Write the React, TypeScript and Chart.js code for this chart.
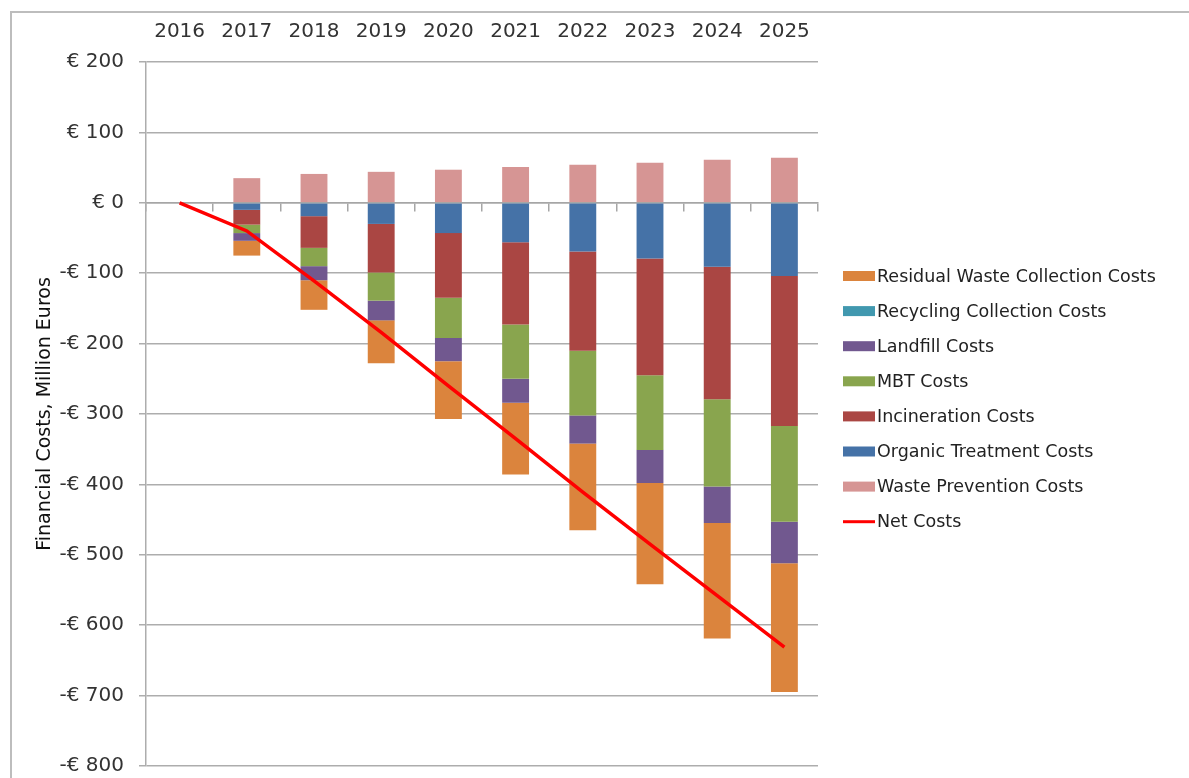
import React, { useEffect, useRef } from 'react';
import { Chart, registerables } from 'chart.js';

Chart.register(...registerables);

const years = ['2016', '2017', '2018', '2019', '2020', '2021', '2022', '2023', '2024', '2025'];

const wastePrevention = [0, 35, 41, 44, 47, 51, 54, 57, 61, 64];
const organicTreatment = [0, -10, -19, -30, -43, -56, -69, -79, -91, -104];
const incineration = [0, -21, -45, -69, -92, -117, -141, -166, -188, -213];
const mbt = [0, -12, -26, -40, -57, -77, -92, -106, -124, -136];
const landfill = [0, -11, -20, -28, -33, -34, -40, -47, -52, -59];
const recyclingCollection = [0, 0, 0, 0, 0, 0, 0, 0, 0, 0];
const residualCollection = [0, -21, -42, -61, -82, -102, -123, -144, -164, -183];
const netCosts = [0, -40, -111, -184, -260, -335, -411, -485, -558, -631];

const yTicks = { min: -800, max: 200, step: 100 };

const legendOrder = [
  'Residual Waste Collection Costs',
  'Recycling Collection Costs',
  'Landfill Costs',
  'MBT Costs',
  'Incineration Costs',
  'Organic Treatment Costs',
  'Waste Prevention Costs',
  'Net Costs',
];

const FONT = 'DejaVu Sans';

const sideLegend = {
  id: 'sideLegend',
  afterDraw(chart: any) {
    const { ctx, chartArea } = chart;
    const left = chartArea.right + 25;
    const firstY = 276;
    const rowH = 35.1;
    const sw = 32;
    const sh = 10;
    ctx.save();
    ctx.font = `17.5px "${FONT}"`;
    ctx.textBaseline = 'middle';
    ctx.textAlign = 'left';
    legendOrder.forEach((label, i) => {
      const ds = chart.data.datasets.find((d: any) => d.label === label);
      if (!ds) return;
      const y = firstY + i * rowH;
      if (ds.type === 'line') {
        ctx.strokeStyle = ds.borderColor;
        ctx.lineWidth = 3;
        ctx.beginPath();
        ctx.moveTo(left, y);
        ctx.lineTo(left + sw, y);
        ctx.stroke();
      } else {
        ctx.fillStyle = ds.backgroundColor;
        ctx.fillRect(left, y - sh / 2, sw, sh);
      }
      ctx.fillStyle = '#222';
      ctx.fillText(label, left + sw + 2, y + 1);
    });
    ctx.restore();
  },
};

export default function App() {
  const ref = useRef<HTMLCanvasElement>(null);

  useEffect(() => {
    const bar = (label: string, data: number[], color: string) => ({
      type: 'bar' as const,
      label,
      data,
      backgroundColor: color,
      borderWidth: 0,
      stack: 'costs',
      barPercentage: 0.4,
      categoryPercentage: 1.0,
    });

    const chart = new Chart(ref.current!, {
      type: 'bar',
      data: {
        labels: years,
        datasets: [
          {
            type: 'line',
            label: 'Net Costs',
            data: netCosts,
            borderColor: '#FF0000',
            backgroundColor: '#FF0000',
            borderWidth: 3.5,
            pointRadius: 0,
            tension: 0,
            stack: 'net',
          } as any,
          bar('Waste Prevention Costs', wastePrevention, '#D69594'),
          bar('Organic Treatment Costs', organicTreatment, '#4572A7'),
          bar('Incineration Costs', incineration, '#AA4643'),
          bar('MBT Costs', mbt, '#89A54E'),
          bar('Landfill Costs', landfill, '#71588F'),
          bar('Recycling Collection Costs', recyclingCollection, '#4198AF'),
          bar('Residual Waste Collection Costs', residualCollection, '#DB843D'),
        ],
      },
      options: {
        responsive: false,
        animation: false,
        layout: { padding: { left: 29.6, top: 20, right: 371, bottom: 12 } },
        plugins: {
          tooltip: { enabled: false },
          legend: { display: false },
        },
        scales: {
          x: {
            type: 'category',
            position: 'top',
            stacked: true,
            offset: true,
            grid: { display: false, drawTicks: false },
            border: { display: false },
            ticks: { padding: 18, color: '#333', font: { family: FONT, size: 20 } },
            afterFit: (s: any) => {
              s.height = 42;
            },
          },
          x0: {
            type: 'category',
            position: { y: 0 } as any,
            offset: true,
            grid: {
              offset: true,
              drawOnChartArea: false,
              drawTicks: true,
              tickLength: 8,
              color: '#a6a6a6',
              lineWidth: 1.5,
            },
            border: { display: true, color: '#a6a6a6', width: 1.5 },
            ticks: { display: false },
          },
          y: {
            stacked: true,
            min: yTicks.min,
            max: yTicks.max,
            ticks: {
              stepSize: yTicks.step,
              padding: 15,
              color: '#333',
              font: { family: FONT, size: 20 },
              callback: (v: any) => (v < 0 ? '-€ ' + -v : '€ ' + v),
            },
            grid: { color: '#adadad', lineWidth: 1.5, tickLength: 7 },
            border: { color: '#adadad', width: 1.5 },
            title: {
              display: true,
              text: 'Financial Costs, Million Euros',
              color: '#111',
              font: { family: FONT, size: 19 },
              padding: { top: 4, bottom: 4 },
            },
            afterFit: (s: any) => {
              s.width = 116.4;
              s.paddingTop = 0;
              s.paddingBottom = 0;
            },
          },
        },
      } as any,
      plugins: [sideLegend],
    });
    return () => chart.destroy();
  }, []);

  return (
    <div
      style={{
        position: 'fixed',
        left: 0,
        top: 0,
        width: 1189,
        height: 778,
        background: '#fff',
        overflow: 'hidden',
      }}
    >
      <div
        style={{
          position: 'absolute',
          left: 10,
          top: 11,
          right: 0,
          bottom: 0,
          borderTop: '2px solid #bdbdbd',
          borderLeft: '2px solid #bdbdbd',
        }}
      />
      <canvas ref={ref} width={1189} height={778} style={{ position: 'absolute', left: 0, top: 0 }} />
    </div>
  );
}
